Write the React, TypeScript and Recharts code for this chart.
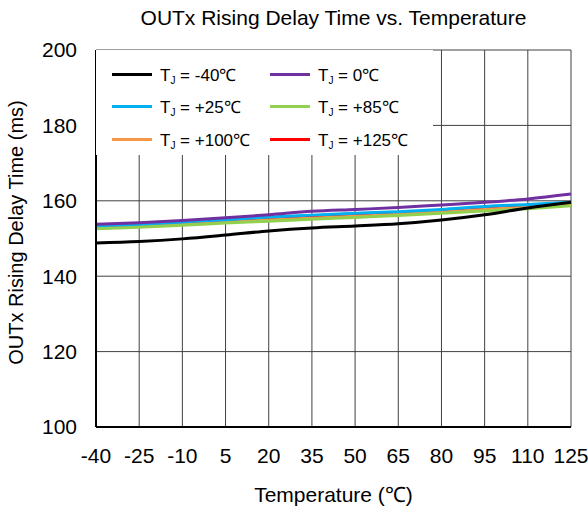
import React from "react";
import { LineChart, Line, XAxis, YAxis, CartesianGrid, Legend } from "recharts";

const temps = [-40, -25, -10, 5, 20, 35, 50, 65, 80, 95, 110, 125];
const yTicks = [100, 120, 140, 160, 180, 200];

const tjMinus40 = [148.8, 149.2, 149.9, 150.9, 152.0, 152.8, 153.3, 153.9, 154.9, 156.3, 158.1, 159.6];
const tj0 = [153.8, 154.2, 154.8, 155.5, 156.3, 157.2, 157.7, 158.2, 158.9, 159.6, 160.5, 161.8];
const tj25 = [153.4, 153.8, 154.4, 155.0, 155.7, 156.2, 156.7, 157.1, 157.7, 158.5, 159.0, 159.6];
const tj85 = [152.6, 153.0, 153.5, 154.1, 154.6, 155.1, 155.6, 156.1, 156.7, 157.3, 157.9, 158.7];
const tj100 = [152.8, 153.2, 153.7, 154.3, 154.9, 155.4, 155.9, 156.4, 157.0, 157.7, 158.3, 159.0];
const tj125 = [153.1, 153.5, 154.1, 154.7, 155.3, 155.8, 156.3, 156.8, 157.4, 158.1, 158.7, 159.3];

const series = [
  { key: "m40", label: "-40℃", color: "#000000", values: tjMinus40 },
  { key: "t0", label: "0℃", color: "#7030A0", values: tj0 },
  { key: "t25", label: "+25℃", color: "#00B0F0", values: tj25 },
  { key: "t85", label: "+85℃", color: "#92D050", values: tj85 },
  { key: "t100", label: "+100℃", color: "#F79646", values: tj100 },
  { key: "t125", label: "+125℃", color: "#FF0000", values: tj125 },
];

// drawing order: hidden ones first
const drawOrder = ["t125", "t100", "t85", "t25", "t0", "m40"];

const data = temps.map((t, i) => {
  const row: Record<string, number> = { temp: t };
  series.forEach((s) => (row[s.key] = s.values[i]));
  return row;
});

const font = "'Liberation Sans', Arial, sans-serif";

const LegendBox = () => (
  <div
    style={{
      background: "#fff",
      width: 337,
      height: 105,
      paddingTop: 8,
      boxSizing: "border-box",
      display: "grid",
      gridTemplateColumns: "158px 179px",
      gridAutoRows: "32.5px",
      fontFamily: font,
      fontSize: 17,
      color: "#000",
    }}
  >
    {series.map((s) => (
      <div key={s.key} style={{ display: "flex", alignItems: "center", paddingLeft: 16 }}>
        <div style={{ width: 40, height: 3, background: s.color, marginRight: 8, flexShrink: 0 }} />
        <span style={{ whiteSpace: "nowrap" }}>
          T<sub style={{ fontSize: 10, verticalAlign: "-3px" }}>J</sub> = {s.label}
        </span>
      </div>
    ))}
  </div>
);

const YTitle = (props: any) => {
  const vb = props.viewBox || { x: 0, y: 0, height: 0 };
  const x = 23;
  const y = vb.y + vb.height / 2 - 6;
  return (
    <text
      x={x}
      y={y}
      transform={`rotate(-90, ${x}, ${y})`}
      textAnchor="middle"
      fontFamily={font}
      fontSize={20}
      fill="#000"
    >
      OUTx Rising Delay Time (ms)
    </text>
  );
};

const XTitle = (props: any) => {
  const vb = props.viewBox || { x: 0, y: 0, width: 0 };
  return (
    <text
      x={vb.x + vb.width / 2}
      y={502}
      textAnchor="middle"
      fontFamily={font}
      fontSize={21}
      fill="#000"
    >
      Temperature (℃)
    </text>
  );
};

export default function App() {
  return (
    <div style={{ position: "absolute", left: 0, top: 0, width: 588, height: 513, background: "#fff" }}>
      <div
        style={{
          position: "absolute",
          left: 96,
          top: 6,
          width: 475,
          textAlign: "center",
          fontFamily: font,
          fontSize: 21,
          lineHeight: "24px",
          color: "#000",
          whiteSpace: "nowrap",
          zIndex: 2,
        }}
      >
        OUTx Rising Delay Time vs. Temperature
      </div>
      <LineChart width={588} height={513} data={data} margin={{ top: 50, right: 17, bottom: 0, left: 0 }}>
        <CartesianGrid stroke="#404040" strokeWidth={1} />
        <XAxis
          dataKey="temp"
          type="number"
          domain={[-40, 125]}
          ticks={temps}
          height={86}
          tickLine={false}
          tickMargin={15}
          axisLine={{ stroke: "#000", strokeWidth: 2 }}
          tick={{ fontSize: 21, fill: "#000", fontFamily: font }}
          interval={0}
          label={<XTitle />}
        />
        <XAxis xAxisId="top" orientation="top" dataKey="temp" type="number" domain={[-40, 125]} height={0} tick={false} tickLine={false} axisLine={{ stroke: "#000", strokeWidth: 2 }} />
        <YAxis
          domain={[100, 200]}
          ticks={yTicks}
          width={96}
          tickLine={false}
          tickMargin={13}
          axisLine={{ stroke: "#000", strokeWidth: 2 }}
          tick={{ fontSize: 21, fill: "#000", fontFamily: font }}
          interval={0}
          label={<YTitle />}
        />
        <YAxis yAxisId="right" orientation="right" domain={[100, 200]} width={0} tick={false} tickLine={false} axisLine={{ stroke: "#000", strokeWidth: 2 }} />
        <Legend
          layout="horizontal"
          verticalAlign="middle"
          align="center"
          wrapperStyle={{ top: 50, left: 96, width: 337, height: 105 }}
          content={() => <LegendBox />}
        />
        {drawOrder.map((k) => {
          const s = series.find((x) => x.key === k)!;
          return (
            <Line
              key={s.key}
              dataKey={s.key}
              type="monotone"
              stroke={s.color}
              strokeWidth={3}
              dot={false}
              isAnimationActive={false}
            />
          );
        })}
      </LineChart>
    </div>
  );
}
